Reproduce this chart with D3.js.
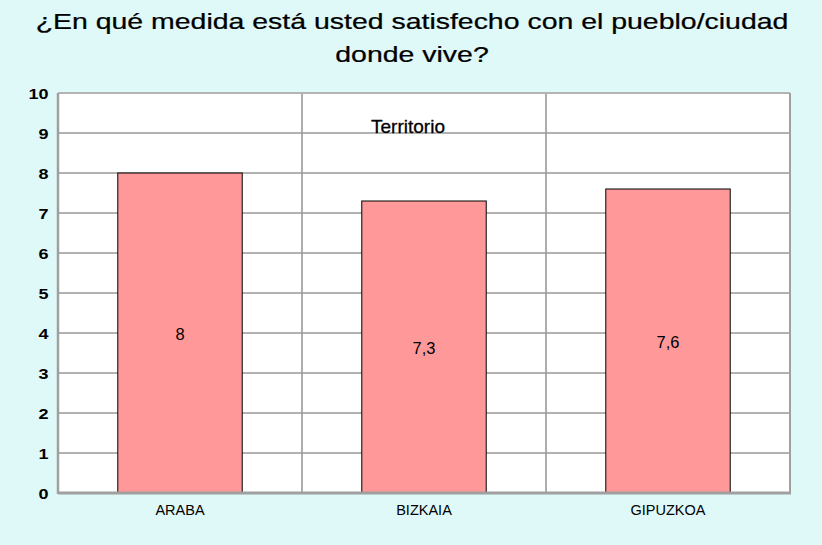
<!DOCTYPE html>
<html>
<head>
<meta charset="utf-8">
<script src="https://cdn.jsdelivr.net/npm/d3@7"></script>
<style>
    html, body { margin: 0; padding: 0; background: #dff8f8; }
    svg { display: block; }
</style>
</head>
<body>
<div id="chart"></div>
<script>
// Chart data
const titleLines = ['¿En qué medida está usted satisfecho con el pueblo/ciudad', 'donde vive?'];
const categories = ['ARABA', 'BIZKAIA', 'GIPUZKOA'];
const values = [8, 7.3, 7.6];
const yTicks = [0, 1, 2, 3, 4, 5, 6, 7, 8, 9, 10];
const seriesLabel = 'Territorio';

const width = 822;
const height = 545;
const margin = { top: 93, right: 32, bottom: 52, left: 58 };
const fontFamily = 'Arial, "Liberation Sans", sans-serif';

const svg = d3.select('#chart')
    .append('svg')
    .attr('width', width)
    .attr('height', height)
    .style('font-family', fontFamily);

svg.append('rect')
    .attr('width', width)
    .attr('height', height)
    .attr('fill', '#dff8f8');

// Title (the source render is stretched horizontally)
svg.append('g')
    .selectAll('text')
    .data(titleLines)
    .join('text')
    .attr('transform', (d, i) => `translate(412,${29 + i * 33}) scale(1.265,1)`)
    .attr('text-anchor', 'middle')
    .style('font-size', '22.5px')
    .attr('fill', '#000')
    .attr('stroke', '#000')
    .attr('stroke-width', 0.25)
    .text(d => d);

const x = d3.scaleBand()
    .domain(categories)
    .range([margin.left, width - margin.right])
    .paddingInner(0)
    .paddingOuter(0);

const y = d3.scaleLinear()
    .domain([0, 10])
    .range([height - margin.bottom, margin.top]);

// Plot area
svg.append('rect')
    .attr('x', margin.left)
    .attr('y', margin.top)
    .attr('width', width - margin.left - margin.right)
    .attr('height', height - margin.top - margin.bottom)
    .attr('fill', '#fff');

// Horizontal gridlines
svg.append('g')
    .selectAll('line')
    .data(yTicks.slice(1, -1))
    .join('line')
    .attr('x1', margin.left)
    .attr('x2', width - margin.right)
    .attr('y1', d => y(d))
    .attr('y2', d => y(d))
    .attr('stroke', '#999')
    .attr('stroke-width', 1.6);

// Vertical gridlines between categories
svg.append('g')
    .selectAll('line')
    .data(categories.slice(1))
    .join('line')
    .attr('x1', d => x(d))
    .attr('x2', d => x(d))
    .attr('y1', margin.top)
    .attr('y2', height - margin.bottom)
    .attr('stroke', '#999')
    .attr('stroke-width', 1.6);

// Bars
const barW = x.bandwidth() * 0.51;
svg.append('g')
    .selectAll('rect')
    .data(values)
    .join('rect')
    .attr('x', (d, i) => x(categories[i]) + (x.bandwidth() - barW) / 2)
    .attr('y', d => y(d))
    .attr('width', barW)
    .attr('height', d => y(0) - y(d))
    .attr('fill', '#ff9999')
    .attr('stroke', '#000')
    .attr('stroke-width', 1);

// Value labels
svg.append('g')
    .selectAll('text')
    .data(values)
    .join('text')
    .attr('x', (d, i) => x(categories[i]) + x.bandwidth() / 2)
    .attr('y', d => y(d / 2))
    .attr('dy', '0.4em')
    .attr('text-anchor', 'middle')
    .style('font-size', '16.5px')
    .attr('fill', '#000')
    .text(d => String(d).replace('.', ','));

// Plot frame
const frame = svg.append('g');
frame.append('line')
    .attr('x1', margin.left).attr('x2', width - margin.right)
    .attr('y1', margin.top).attr('y2', margin.top)
    .attr('stroke', '#b4b4b4').attr('stroke-width', 2);
frame.append('line')
    .attr('x1', width - margin.right).attr('x2', width - margin.right)
    .attr('y1', margin.top).attr('y2', height - margin.bottom)
    .attr('stroke', '#a0a0a0').attr('stroke-width', 2);
frame.append('line')
    .attr('x1', margin.left).attr('x2', margin.left)
    .attr('y1', margin.top).attr('y2', height - margin.bottom + 1)
    .attr('stroke', '#a0a0a0').attr('stroke-width', 2.5);
frame.append('line')
    .attr('x1', margin.left).attr('x2', width - margin.right + 1)
    .attr('y1', height - margin.bottom).attr('y2', height - margin.bottom)
    .attr('stroke', '#a0a0a0').attr('stroke-width', 3);

// Y axis
const yAxis = svg.append('g')
    .attr('transform', `translate(${margin.left},0)`)
    .call(d3.axisLeft(y).tickValues(yTicks).tickSize(0).tickPadding(8));
yAxis.select('.domain').remove();
yAxis.selectAll('text')
    .style('font-size', '15px')
    .style('font-weight', 'bold')
    .style('font-family', fontFamily)
    .attr('dy', '0.36em')
    .attr('transform', 'scale(1.2,1)')
    .attr('fill', '#000');

// X axis
const xAxis = svg.append('g')
    .attr('transform', `translate(0,${height - margin.bottom})`)
    .call(d3.axisBottom(x).tickSize(0).tickPadding(12));
xAxis.select('.domain').remove();
xAxis.selectAll('text')
    .style('font-size', '14.5px')
    .style('font-family', fontFamily)
    .attr('fill', '#000');

// Series label
svg.append('text')
    .attr('x', 408)
    .attr('y', y(9))
    .attr('text-anchor', 'middle')
    .style('font-size', '19px')
    .attr('fill', '#000')
    .attr('stroke', '#000')
    .attr('stroke-width', 0.3)
    .text(seriesLabel);
</script>
</body>
</html>
